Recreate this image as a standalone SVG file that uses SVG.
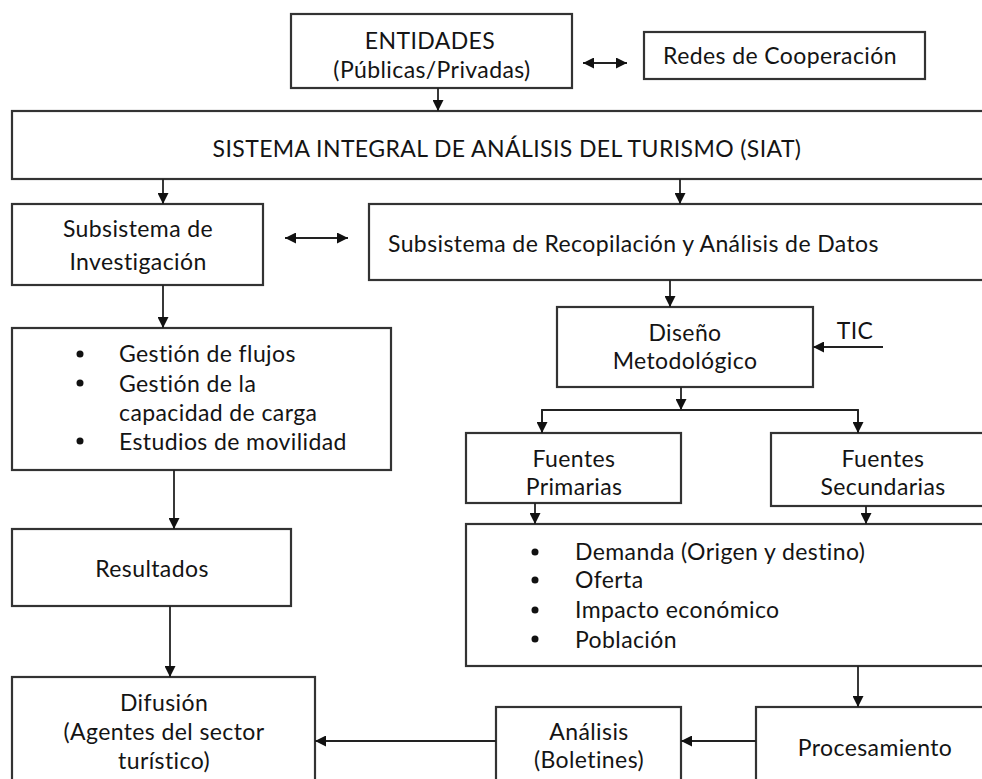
<svg xmlns="http://www.w3.org/2000/svg" width="982" height="779" viewBox="0 0 982 779">
<defs>
<style>
.box{fill:#fff;stroke:#333;stroke-width:2.2}
.t{font-family:Lato,"Open Sans","Liberation Sans",sans-serif;font-size:23px;letter-spacing:0.4px;fill:#141414;dominant-baseline:central}
.c{text-anchor:middle}
.ln{fill:none;stroke:#222;stroke-width:1.8}
.dot{fill:#111}
</style>
<marker id="ah" viewBox="0 0 10 10" refX="10" refY="5" markerWidth="11" markerHeight="11" markerUnits="userSpaceOnUse" orient="auto-start-reverse">
<path d="M0,0 L10,5 L0,10 z" fill="#111"/>
</marker>
</defs>
<rect width="982" height="779" fill="#fff"/>

<g id="entidades">
<rect class="box" x="291" y="14" width="281" height="74"/>
<text class="t c" x="430" y="40">ENTIDADES</text>
<text class="t c" x="432" y="69">(Públicas/Privadas)</text>
</g>
<g id="redes">
<rect class="box" x="644" y="32" width="281" height="47"/>
<text class="t c" x="780" y="55">Redes de Cooperación</text>
</g>
<g id="siat">
<rect class="box" x="12" y="111" width="990" height="68"/>
<text class="t c" x="507" y="148">SISTEMA INTEGRAL DE ANÁLISIS DEL TURISMO (SIAT)</text>
</g>
<g id="subinv">
<rect class="box" x="12" y="204" width="251" height="81"/>
<text class="t c" x="138" y="228">Subsistema de</text>
<text class="t c" x="138" y="261">Investigación</text>
</g>
<g id="recop">
<rect class="box" x="369" y="204" width="633" height="76"/>
<text class="t" x="388" y="243">Subsistema de Recopilación y Análisis de Datos</text>
</g>
<g id="gestion">
<rect class="box" x="12" y="328" width="379" height="142"/>
<circle class="dot" cx="80" cy="354" r="3.5"/>
<circle class="dot" cx="80" cy="383" r="3.5"/>
<circle class="dot" cx="80" cy="441" r="3.5"/>
<text class="t" x="119" y="353">Gestión de flujos</text>
<text class="t" x="119" y="383">Gestión de la</text>
<text class="t" x="119" y="412">capacidad de carga</text>
<text class="t" x="119" y="441">Estudios de movilidad</text>
</g>
<g id="diseno">
<rect class="box" x="557" y="307" width="256" height="80"/>
<text class="t c" x="685" y="332">Diseño</text>
<text class="t c" x="685" y="360">Metodológico</text>
</g>
<g id="tic">
<text class="t c" x="855" y="330">TIC</text>
</g>
<g id="primarias">
<rect class="box" x="466" y="433" width="215" height="70"/>
<text class="t c" x="574" y="458">Fuentes</text>
<text class="t c" x="574" y="486">Primarias</text>
</g>
<g id="secundarias">
<rect class="box" x="771" y="433" width="231" height="73"/>
<text class="t c" x="883" y="458">Fuentes</text>
<text class="t c" x="883" y="486">Secundarias</text>
</g>
<g id="datos">
<rect class="box" x="466" y="524" width="536" height="142"/>
<circle class="dot" cx="535" cy="552" r="3.5"/>
<circle class="dot" cx="535" cy="580" r="3.5"/>
<circle class="dot" cx="535" cy="610" r="3.5"/>
<circle class="dot" cx="535" cy="639" r="3.5"/>
<text class="t" x="575" y="551">Demanda (Origen y destino)</text>
<text class="t" x="575" y="579">Oferta</text>
<text class="t" x="575" y="609">Impacto económico</text>
<text class="t" x="575" y="639">Población</text>
</g>
<g id="resultados">
<rect class="box" x="12" y="529" width="279" height="77"/>
<text class="t c" x="152" y="568">Resultados</text>
</g>
<g id="difusion">
<rect class="box" x="12" y="677" width="303" height="120"/>
<text class="t c" x="164" y="702">Difusión</text>
<text class="t c" x="164" y="731">(Agentes del sector</text>
<text class="t c" x="164" y="760">turístico)</text>
</g>
<g id="analisis">
<rect class="box" x="496" y="707" width="185" height="90"/>
<text class="t c" x="589" y="731">Análisis</text>
<text class="t c" x="589" y="759">(Boletines)</text>
</g>
<g id="procesamiento">
<rect class="box" x="756" y="707" width="246" height="90"/>
<text class="t c" x="875" y="747">Procesamiento</text>
</g>

<g id="connectors">
<line class="ln" x1="583" y1="63" x2="627" y2="63" marker-start="url(#ah)" marker-end="url(#ah)"/>
<line class="ln" x1="438" y1="88" x2="438" y2="111" marker-end="url(#ah)"/>
<line class="ln" x1="163" y1="179" x2="163" y2="204" marker-end="url(#ah)"/>
<line class="ln" x1="680" y1="179" x2="680" y2="204" marker-end="url(#ah)"/>
<line class="ln" x1="285" y1="238" x2="348" y2="238" marker-start="url(#ah)" marker-end="url(#ah)"/>
<line class="ln" x1="163" y1="285" x2="163" y2="328" marker-end="url(#ah)"/>
<line class="ln" x1="670" y1="280" x2="670" y2="307" marker-end="url(#ah)"/>
<line class="ln" x1="883" y1="347" x2="813" y2="347" marker-end="url(#ah)"/>
<line class="ln" x1="681" y1="387" x2="681" y2="410" marker-end="url(#ah)"/>
<polyline class="ln" points="542,433 542,410 858,410 858,433"/>
<line class="ln" x1="542" y1="410" x2="542" y2="433" marker-end="url(#ah)"/>
<line class="ln" x1="858" y1="410" x2="858" y2="433" marker-end="url(#ah)"/>
<line class="ln" x1="535" y1="503" x2="535" y2="524" marker-end="url(#ah)"/>
<line class="ln" x1="866" y1="506" x2="866" y2="524" marker-end="url(#ah)"/>
<line class="ln" x1="174" y1="470" x2="174" y2="529" marker-end="url(#ah)"/>
<line class="ln" x1="170" y1="606" x2="170" y2="677" marker-end="url(#ah)"/>
<line class="ln" x1="858" y1="666" x2="858" y2="707" marker-end="url(#ah)"/>
<line class="ln" x1="756" y1="741" x2="681" y2="741" marker-end="url(#ah)"/>
<line class="ln" x1="496" y1="741" x2="315" y2="741" marker-end="url(#ah)"/>
</g>
</svg>
